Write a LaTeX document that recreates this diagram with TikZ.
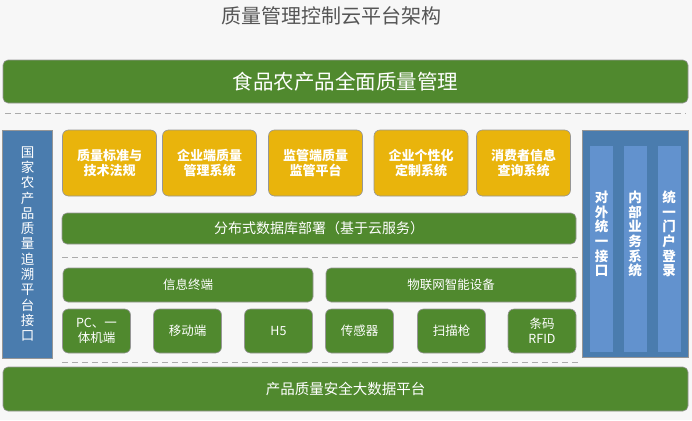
\documentclass[tikz,border=0pt]{standalone}
\usepackage{fontspec}
\setmainfont{Noto Sans CJK SC}
\definecolor{bggray}{RGB}{247,247,247}
\definecolor{qgreen}{RGB}{80,137,46}
\definecolor{qyellow}{RGB}{233,180,12}
\definecolor{qblue}{RGB}{74,124,174}
\definecolor{qcol}{RGB}{98,146,206}
\definecolor{qtitle}{RGB}{85,85,85}
\definecolor{qline}{RGB}{150,150,150}
\newcommand{\setfs}[2]{\fontsize{#1}{#2}\selectfont}
\begin{document}
\begin{tikzpicture}[x=1pt,y=-1pt]

      \fill[bggray] (0,0) rectangle (692,420);
      \useasboundingbox (0,0) rectangle (692,420);

      \node[text=qtitle, font=\setfs{20}{24}] (title) at (331,16) {质量管理控制云平台架构};

      % big bars
      \begin{scope}[every node/.style={rectangle, rounded corners=5pt, fill=qgreen, draw=qline,
          line width=.6pt, text=white, inner sep=0pt}]
        \node[minimum width=685, minimum height=43, font=\setfs{20.5}{24}] (top) at (345.5,81.5) {食品农产品全面质量管理};
        \node[minimum width=514, minimum height=31, font=\setfs{14}{16}] (db) at (319,228.5) {分布式数据库部署（基于云服务）};
        \node[minimum width=250, minimum height=34, font=\setfs{12.5}{14}] (info) at (188,285) {信息终端};
        \node[minimum width=250, minimum height=34, font=\setfs{12.5}{14}] (iot) at (451,285) {物联网智能设备};
        \node[minimum width=685, minimum height=44, font=\setfs{14.5}{16}] (bigdata) at (345.5,389) {产品质量安全大数据平台};
      \end{scope}

      % yellow application boxes
      \begin{scope}[every node/.style={rectangle, rounded corners=6pt, fill=qyellow, draw=qline,
          line width=.6pt, text=white, inner sep=0pt, minimum width=94, minimum height=66,
          align=center, font=\bfseries\setfs{13}{14.5}}]
        \node (std)  at (109.5,163) {质量标准与\\技术法规};
        \node (ent)  at (209.5,163) {企业端质量\\管理系统};
        \node (sup)  at (315.5,163) {监管端质量\\监管平台};
        \node (cust) at (421,163)   {企业个性化\\定制系统};
        \node (cons) at (523.5,163) {消费者信息\\查询系统};
      \end{scope}

      % terminals and devices
      \begin{scope}[every node/.style={rectangle, rounded corners=6pt, fill=qgreen, draw=qline,
          line width=.6pt, text=white, inner sep=0pt, minimum width=68, minimum height=44,
          align=center, font=\setfs{12.5}{15}}]
        \node (pc)     at (96.5,331)  {PC、一\\体机端};
        \node (mobile) at (187.5,331) {移动端};
        \node (h5)     at (278.5,331) {H5};
        \node (sensor) at (359.5,331) {传感器};
        \node (scan)   at (451.5,331) {扫描枪};
        \node (rfid)   at (542,331)   {条码\\RFID};
      \end{scope}

      % side panels
      \begin{scope}[every node/.style={rectangle, fill=qblue, draw=qline, line width=.4pt,
          text=white, inner sep=0pt, align=center}]
        \node[minimum width=50, minimum height=228, font=\setfs{13.5}{15.3}] (trace) at (27.5,244)
          {国\\家\\农\\产\\品\\质\\量\\追\\溯\\平\\台\\接\\口};
        \node[minimum width=106, minimum height=227] (right) at (635,243.5) {};
      \end{scope}

      \begin{scope}[every node/.style={rectangle, fill=qcol, inner sep=0pt, minimum width=23,
          minimum height=206}]
        \node (c1) at (601.5,249) {};
        \node (c2) at (635,249) {};
        \node (c3) at (669,249) {};
      \end{scope}

      \begin{scope}[every node/.style={text=white, inner sep=0pt, align=center,
          font=\bfseries\setfs{13.5}{14.7}}]
        \node at (601.5,234) {对\\外\\统\\一\\接\\口};
        \node at (635,234) {内\\部\\业\\务\\系\\统};
        \node at (669,234) {统\\一\\门\\户\\登\\录};
      \end{scope}

      % separators
      \begin{scope}[qline!80, line width=.8pt, dash pattern=on 6pt off 4pt]
        \draw (5,113) -- (686,113);
        \draw (62,257) -- (578,257);
        \draw (62,362) -- (578,362);
      \end{scope}

    \end{tikzpicture}
\end{document}
